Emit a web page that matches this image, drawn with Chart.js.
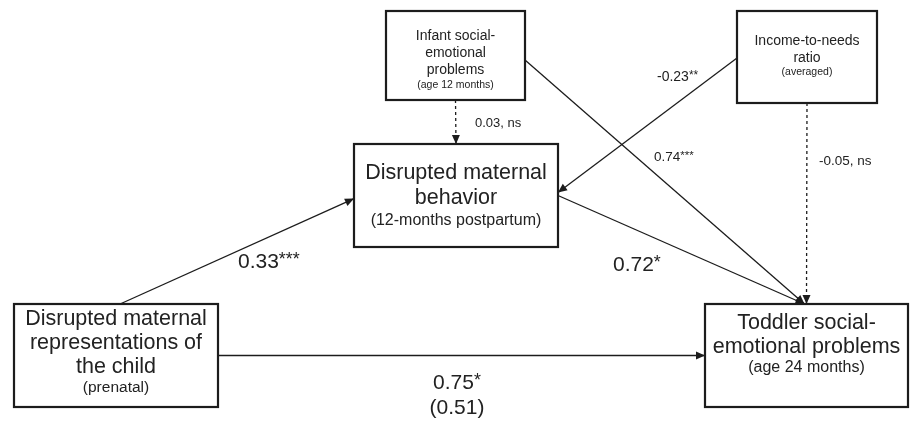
<!DOCTYPE html>
<html>
<head>
<meta charset="utf-8">
<script src="https://cdn.jsdelivr.net/npm/chart.js@4.4.1/dist/chart.umd.min.js"></script>
<style>
  body { margin: 0; background: #fff; }
</style>
</head>
<body>
<canvas id="chart" width="910" height="421"></canvas>
<script>
  // model: variables and path coefficients
  var nodeIds = ['infant', 'income', 'behavior', 'prenatal', 'toddler'];
  var nodeTitles = [
    ['Infant social-', 'emotional', 'problems'],
    ['Income-to-needs', 'ratio'],
    ['Disrupted maternal', 'behavior'],
    ['Disrupted maternal', 'representations of', 'the child'],
    ['Toddler social-', 'emotional problems']
  ];
  var nodeNotes = ['(age 12 months)', '(averaged)', '(12-months postpartum)', '(prenatal)', '(age 24 months)'];

  var pathFrom = ['infant', 'income', 'infant', 'income', 'prenatal', 'behavior', 'prenatal'];
  var pathTo   = ['behavior', 'behavior', 'toddler', 'toddler', 'behavior', 'toddler', 'toddler'];
  var pathCoef = ['0.03', '-0.23', '0.74', '-0.05', '0.33', '0.72', '0.75'];
  var pathSig  = [', ns', '**', '***', ', ns', '***', '*', '*'];
  var pathExtra = ['', '', '', '', '', '', '(0.51)'];

  // layout (in scale units, 910 x 421 grid)
  var boxes = {
    infant:   { r: [386, 11, 525, 100], size: 14, note: 10.5, lines: [36, 53, 70], noteY: 85 },
    income:   { r: [737, 11, 877, 103], size: 14, note: 10.5, lines: [41, 58], noteY: 72 },
    behavior: { r: [354, 144, 558, 247], size: 21.5, note: 16, lines: [173, 198], noteY: 221 },
    prenatal: { r: [14, 304, 218, 407], size: 21.5, note: 15.5, lines: [319, 343, 367], noteY: 388 },
    toddler:  { r: [705, 304, 908, 407], size: 21.5, note: 16, lines: [323, 347], noteY: 368 }
  };
  // where each path leaves / enters a box: [side, fraction along side]
  var pathAttach = [
    [['bottom', 0.5], ['top', 0.5]],
    [['left', 0.51], ['right', 0.47]],
    [['right', 0.55], ['top', 0.49]],
    [['bottom', 0.5], ['top', 0.5]],
    [['top', 0.52], ['left', 0.53]],
    [['right', 0.5], ['top', 0.49]],
    [['right', 0.5], ['left', 0.5]]
  ];
  var labelPos = [
    { x: 475, y: 123, size: 13, align: 'left' },
    { x: 657, y: 77,  size: 14, align: 'left' },
    { x: 654, y: 157, size: 13.5, align: 'left' },
    { x: 819, y: 161, size: 13.5, align: 'left' },
    { x: 238, y: 262, size: 21, align: 'left' },
    { x: 613, y: 265, size: 21, align: 'left' },
    { x: 457, y: 383, size: 21, align: 'center' }
  ];

  var FONT = '"Liberation Sans", Arial, Helvetica, sans-serif';
  var INK = '#1c1c1c';

  function attachPoint(id, a) {
    var r = boxes[id].r;
    if (a[0] === 'top') return { x: r[0] + (r[2] - r[0]) * a[1], y: r[1] };
    if (a[0] === 'bottom') return { x: r[0] + (r[2] - r[0]) * a[1], y: r[3] };
    if (a[0] === 'left') return { x: r[0], y: r[1] + (r[3] - r[1]) * a[1] };
    return { x: r[2], y: r[1] + (r[3] - r[1]) * a[1] };
  }

  var datasets = [];
  for (var i = 0; i < pathFrom.length; i++) {
    var ns = pathSig[i].indexOf('ns') >= 0;
    datasets.push({
      label: pathFrom[i] + ' -> ' + pathTo[i],
      data: [attachPoint(pathFrom[i], pathAttach[i][0]), attachPoint(pathTo[i], pathAttach[i][1])],
      showLine: true,
      borderColor: INK,
      borderWidth: 1.3,
      borderDash: ns ? [3, 3] : [],
      pointRadius: 0,
      fill: false
    });
  }

  var diagramPlugin = {
    id: 'diagram',
    afterDatasetsDraw: function(chart) {
      var ctx = chart.ctx;
      var sx = chart.scales.x, sy = chart.scales.y;
      var px = function(v) { return sx.getPixelForValue(v); };
      var py = function(v) { return sy.getPixelForValue(v); };
      ctx.save();

      // arrowheads
      chart.data.datasets.forEach(function(ds) {
        var a = ds.data[0], b = ds.data[1];
        var x1 = px(a.x), y1 = py(a.y), x2 = px(b.x), y2 = py(b.y);
        var ang = Math.atan2(y2 - y1, x2 - x1);
        var len = 9, wid = 4;
        ctx.fillStyle = INK;
        ctx.beginPath();
        ctx.moveTo(x2, y2);
        ctx.lineTo(x2 - len * Math.cos(ang) + wid * Math.sin(ang), y2 - len * Math.sin(ang) - wid * Math.cos(ang));
        ctx.lineTo(x2 - len * Math.cos(ang) - wid * Math.sin(ang), y2 - len * Math.sin(ang) + wid * Math.cos(ang));
        ctx.closePath();
        ctx.fill();
      });

      // boxes
      nodeIds.forEach(function(id, k) {
        var b = boxes[id];
        var x1 = px(b.r[0]), y1 = py(b.r[1]), x2 = px(b.r[2]), y2 = py(b.r[3]);
        ctx.fillStyle = '#fff';
        ctx.fillRect(x1, y1, x2 - x1, y2 - y1);
        ctx.strokeStyle = INK;
        ctx.lineWidth = 2.2;
        ctx.strokeRect(x1, y1, x2 - x1, y2 - y1);
        var cx = (x1 + x2) / 2;
        ctx.fillStyle = '#222';
        ctx.textAlign = 'center';
        ctx.textBaseline = 'middle';
        ctx.font = b.size + 'px ' + FONT;
        nodeTitles[k].forEach(function(t, j) {
          ctx.fillText(t, cx, py(b.lines[j]));
        });
        ctx.font = b.note + 'px ' + FONT;
        ctx.fillText(nodeNotes[k], cx, py(b.noteY));
      });

      // coefficients (stars drawn as small superscripts)
      for (var i = 0; i < pathCoef.length; i++) {
        var L = labelPos[i];
        var stars = pathSig[i].charAt(0) === '*';
        var main = stars ? pathCoef[i] : pathCoef[i] + pathSig[i];
        var supSize = L.size * 0.85;
        ctx.textBaseline = 'middle';
        ctx.textAlign = 'left';
        ctx.fillStyle = '#222';
        ctx.font = L.size + 'px ' + FONT;
        var w1 = ctx.measureText(main).width;
        ctx.font = supSize + 'px ' + FONT;
        var w2 = stars ? ctx.measureText(pathSig[i]).width : 0;
        var x0 = px(L.x);
        if (L.align === 'center') x0 -= (w1 + w2) / 2;
        var y0 = py(L.y);
        ctx.font = L.size + 'px ' + FONT;
        ctx.fillText(main, x0, y0);
        if (stars) {
          ctx.font = supSize + 'px ' + FONT;
          ctx.fillText(pathSig[i], x0 + w1, y0 - L.size * 0.08);
        }
        if (pathExtra[i]) {
          ctx.font = L.size + 'px ' + FONT;
          ctx.textAlign = L.align;
          ctx.fillText(pathExtra[i], px(L.x), py(L.y + 25));
        }
      }
      ctx.restore();
    }
  };

  var config = {
    type: 'scatter',
    data: { datasets: datasets },
    options: {
      responsive: false,
      animation: false,
      layout: { padding: 0 },
      plugins: { legend: { display: false }, tooltip: { enabled: false } },
      scales: {
        x: { type: 'linear', min: 0, max: 910, display: false },
        y: { type: 'linear', min: 0, max: 421, reverse: true, display: false }
      }
    },
    plugins: [diagramPlugin]
  };

  var pathChart = new Chart(document.getElementById('chart'), config);
</script>
</body>
</html>
